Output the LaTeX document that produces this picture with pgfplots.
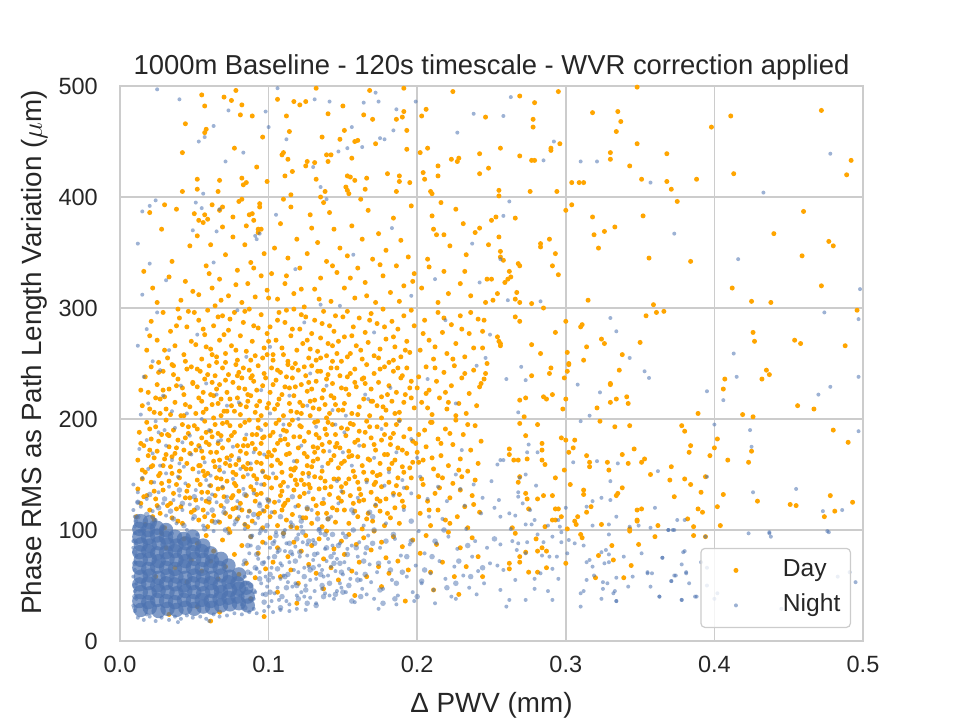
\documentclass[border=0pt]{standalone}
\usepackage{pgfplots}
\pgfplotsset{compat=1.18}
\usepackage{fontspec}
\setmainfont{Liberation Sans}
\definecolor{dayc}{HTML}{FFA500}
\definecolor{nightc}{HTML}{4C72B0}
\definecolor{gridc}{HTML}{CCCCCC}
\definecolor{txt}{HTML}{262626}
\begin{document}
\begin{tikzpicture}
\path[use as bounding box] (0,0) rectangle (480pt,360pt);
\begin{axis}[
  at={(60pt,39.5pt)}, anchor=south west,
  scale only axis, width=371.5pt, height=277.5pt,
  xmin=0, xmax=500, ymin=0, ymax=500,
  axis line style={gridc, line width=0.9pt},
  grid=major, grid style={gridc, line width=0.75pt},
  major tick length=0pt,
  xtick={0,100,200,300,400,500}, xticklabels={0.0,0.1,0.2,0.3,0.4,0.5},
  ytick={0,100,200,300,400,500}, yticklabels={0,100,200,300,400,500},
  tick label style={font=\fontsize{11.75}{14}\selectfont, text=txt, inner sep=0pt},
  xticklabel style={anchor=base, yshift=-15.5pt},
  yticklabel style={anchor=east, xshift=-10.9pt},
  every axis x label/.style={at={(axis description cs:0.5,0)}, anchor=base, yshift=-35.5pt, font=\fontsize{13.9}{16}\selectfont, text=txt, inner sep=0pt},
  every axis y label/.style={at={(axis description cs:0,0.5)}, rotate=90, anchor=base, xshift=5.5pt, yshift=39pt, font=\fontsize{13.9}{16}\selectfont, text=txt, inner sep=0pt},
  xlabel={Δ PWV (mm)},
  ylabel={Phase RMS as Path Length Variation ($\mu$m)},
  title={1000m Baseline - 120s timescale - WVR correction applied},
  every axis title/.style={at={(axis description cs:0.5,1)}, anchor=base, yshift=6pt, font=\fontsize{13.7}{16}\selectfont, text=txt, inner sep=0pt},
  legend style={at={(axis description cs:1,0)}, anchor=south east, xshift=-6pt, yshift=6.5pt,
    draw=gridc, line width=0.6pt, rounded corners=2pt, fill=white, fill opacity=0.8, text opacity=1,
    inner xsep=5pt, inner ysep=2.25pt, row sep=0pt, column sep=0pt,
    nodes={inner sep=0pt, text height=8.8pt, text depth=2.6pt},
    font=\fontsize{12.3}{14}\selectfont, text=txt},
  legend cell align=left,
  legend image code/.code={\path[draw=none,fill=none] (0pt,-8.75pt) rectangle (36pt,8.75pt); \draw[#1] plot coordinates {(12.5pt,0pt)};},
]
% Day
\addplot[only marks, mark=*, color=dayc, mark size=1.25pt, mark options={draw opacity=0, fill=dayc, fill opacity=1}] coordinates {
(348,499)(318,476)(335,477)(337,468)(334,459)(398,463)(348,448)(330,440)(330,434)(368,439)(343,428)(304,413)(309,413)(312,413)(351,416)(368,414)(371,407)(388,416)
(411,473)(413,421)(472,478)(492,433)(489,420)
(295,495)(269,491)(279,485)(246,472)(278,470)(278,463)(256,444)(269,437)(290,444)(290,442)(296,448)(277,433)(279,433)(248,426)(242,439)(242,421)(255,406)(255,401)(276,405)(294,405)
(304,393)(300,388)(318,382)(352,383)(375,396)(319,366)(326,369)(333,373)(322,354)(356,345)(384,342)(315,307)
(460,387)(440,367)(477,360)(480,356)(459,347)(412,318)(472,320)(425,306)(438,305)
(250,379)(253,382)(266,381)(242,372)(255,364)(248,357)(256,351)(256,346)(258,343)(283,358)(283,355)(289,362)(293,349)(291,338)(295,330)(268,340)(269,338)(262,333)(263,328)(261,326)(259,323)(247,326)(250,326)(254,313)(267,314)(266,308)(269,305)(251,307)(246,305)(277,304)(285,300)
(245,289)(266,292)(269,288)(244,279)(254,274)(255,270)(256,268)(256,266)(293,278)(277,267)(283,259)(244,264)(247,250)(246,241)(245,236)(243,232)(290,246)(289,241)(277,239)
(300,288)(310,283)(311,285)(354,293)(359,303)(361,296)(366,297)(350,269)(324,272)(326,268)(314,265)(301,260)(338,258)(312,253)(302,250)(302,249)(336,244)(301,243)(299,237)(330,232)
(426,278)(427,270)(454,271)(458,268)(488,266)(496,298)(435,244)(437,240)(432,236)(407,236)
(330,231)(298,209)(321,210)(330,215)(334,218)(341,220)(342,214)(323,198)(333,193)(343,194)(389,205)(378,194)(380,189)(406,227)(419,204)(426,202)(456,212)(467,209)(480,190)(490,179)(402,182)(384,176)(383,170)(397,167)(400,174)(409,163)(425,171)(423,161)(346,173)(353,164)(351,161)(342,160)(338,168)(314,167)(316,161)(316,157)(299,154)(328,161)(329,154)(371,157)(357,150)(370,145)(380,146)(384,141)(394,148)(338,138)(335,133)(334,131)(312,136)(312,132)(303,141)(391,134)(373,130)(478,131)(493,125)(429,126)(451,123)(455,122)(406,132)(402,121)(474,112)(481,117)(348,118)(351,119)(317,121)(314,116)(308,112)(306,108)(307,105)(389,119)(392,116)(382,110)(348,109)(324,105)(362,104)(386,103)(404,104)(343,101)(343,99)(310,96)(311,93)(360,94)(386,95)(394,94)(331,86)(349,87)(322,77)(344,68)(320,57)(339,57)(332,73)(348,108)
(300,218)(285,220)(291,222)(287,218)(273,219)(269,217)(281,195)(272,202)(269,196)(273,185)(297,183)(300,181)(306,181)(305,174)(302,170)(284,178)(284,172)(284,163)(286,159)(262,173)(262,168)(265,163)(268,163)(274,164)(293,147)(269,148)(268,143)(273,133)(274,128)(275,119)(285,131)(281,128)(291,131)(293,119)(295,119)(297,112)(291,109)(293,109)(286,103)(301,101)(264,102)(266,97)(280,92)(281,81)(284,84)(287,81)(273,80)(269,71)(269,76)(262,70)(281,62)(287,66)(275,62)(300,70)(262,65)
(55,492)(78,496)(70,490)(75,487)(57,482)(82,483)(81,474)(89,473)(44,466)(58,461)(57,458)(96,454)(77,444)(42,440)(92,427)(52,416)(52,407)(67,415)(82,417)(83,411)(85,413)(99,414)(42,405)(66,405)(30,393)(20,386)
(106,488)(117,486)(121,483)(125,486)(132,498)(150,482)(168,496)(191,498)(140,475)(164,474)(170,470)(186,470)(190,472)(191,477)(112,473)(114,459)(151,460)(136,454)(148,452)(158,450)(160,451)(172,448)(193,460)(193,443)(109,438)(110,440)(113,434)(126,432)(125,428)(131,431)(139,438)(142,438)(140,432)(156,435)(111,419)(116,423)(132,416)(153,419)(155,418)(152,409)(153,406)(154,403)(158,415)(166,417)(180,421)(188,419)(188,414)(195,413)(165,407)(186,405)(138,405)(135,400)(115,402)
(50,385)(53,379)(57,384)(59,380)(62,393)(67,388)(80,396)(82,398)(94,394)(94,391)(89,385)(90,379)(85,374)(69,373)(93,371)(95,371)(52,365)(76,364)
(224,495)(206,479)(203,473)(207,444)(202,440)(223,434)(227,432)(228,435)(214,428)(214,419)(204,422)(205,416)(209,405)(210,403)(210,383)(213,366)(218,366)(231,376)
(22,318)(35,342)(41,307)(28,371)(47,356)(16,333)(38,389)(44,324)
(53,312)(58,338)(61,357)(64,302)(67,326)(71,348)(73,311)(76,382)(79,334)(82,305)(84,357)(86,322)(88,341)(91,310)(93,368)(95,329)(97,349)(99,316)(56,377)(69,391)(87,384)(62,318)
(102,331)(104,354)(106,308)(108,376)(111,322)(113,345)(115,391)(117,313)(119,362)(121,336)(124,301)(126,349)(128,384)(131,317)(133,359)(135,327)(137,395)(139,342)(142,306)(144,371)(146,332)(148,354)(110,398)(129,372)(141,386)
(151,318)(153,347)(156,374)(158,309)(160,336)(163,362)(165,323)(167,388)(170,344)(172,305)(174,367)(177,329)(179,352)(182,314)(184,381)(186,338)(189,361)(191,320)(194,346)(196,392)(198,331)(162,398)
(203,318)(207,344)(211,371)(214,305)(218,333)(222,356)(226,389)(229,322)(233,348)(236,311)(239,368)(216,395)
(18,262)(21,288)(25,271)(29,296)(32,255)(34,279)(37,266)(40,291)(43,258)(45,283)(48,270)(26,251)(39,299)(46,297)
(51,267)(53,289)(55,254)(57,276)(59,298)(61,263)(63,284)(65,251)(67,271)(69,293)(71,259)(73,280)(75,266)(77,296)(79,253)(81,275)(83,287)(85,261)(87,299)(89,270)(91,257)(93,282)(95,294)(97,264)(99,277)(58,265)(74,290)(88,253)
(101,283)(103,258)(105,271)(107,296)(109,264)(111,287)(113,252)(115,275)(117,299)(119,262)(121,281)(123,268)(125,292)(127,255)(129,277)(131,289)(133,261)(135,273)(137,297)(139,257)(141,284)(143,266)(145,293)(147,270)(149,252)(112,298)(128,263)(144,279)
(151,274)(153,297)(155,259)(157,283)(159,266)(161,291)(163,254)(165,278)(167,269)(169,295)(171,257)(173,286)(175,263)(177,299)(179,272)(181,251)(183,288)(185,265)(187,281)(189,256)(191,293)(193,270)(195,260)(198,284)
(202,262)(205,289)(208,271)(211,254)(214,296)(217,278)(220,259)(223,285)(226,268)(229,293)(232,256)(235,277)(238,264)(241,290)
(15,212)(17,238)(19,224)(21,247)(23,206)(25,231)(27,218)(29,243)(31,209)(33,227)(35,249)(37,215)(39,236)(41,203)(43,222)(45,245)(47,211)(49,233)(24,219)(36,240)(42,228)
(51,205)(52,229)(54,243)(55,216)(57,236)(58,209)(60,248)(61,222)(63,201)(64,239)(66,214)(67,231)(69,246)(70,207)(72,224)(73,240)(75,212)(76,233)(78,249)(79,219)(81,204)(82,237)(84,227)(85,211)(87,244)(88,221)(90,234)(91,206)(93,248)(94,216)(96,230)(97,241)(99,210)(56,224)(68,218)(80,242)(92,226)(62,233)
(101,224)(102,246)(104,209)(105,235)(107,218)(108,242)(110,203)(111,229)(113,249)(114,214)(116,237)(117,221)(119,206)(120,244)(122,231)(123,212)(125,239)(126,225)(128,203)(129,248)(131,217)(132,234)(134,209)(135,243)(137,226)(138,213)(140,240)(141,205)(143,232)(144,219)(146,246)(147,208)(149,228)(118,250)(139,201)
(151,214)(153,238)(154,222)(156,205)(158,245)(159,229)(161,211)(163,236)(164,218)(166,249)(168,203)(169,227)(171,241)(173,212)(174,233)(176,220)(178,247)(179,208)(181,230)(183,216)(184,243)(186,224)(188,206)(189,237)(191,215)(193,246)(195,228)(198,210)
(201,238)(203,215)(206,247)(208,226)(210,204)(213,234)(215,219)(218,242)(220,209)(223,230)(225,248)(228,214)(230,237)(233,205)(235,223)(238,244)(240,212)(242,229)
(12,163)(13,188)(15,154)(16,176)(18,197)(19,167)(21,182)(22,158)(24,193)(25,171)(27,151)(28,186)(30,164)(31,199)(33,175)(34,157)(36,190)(37,169)(39,181)(40,153)(42,195)(43,172)(45,160)(46,187)(48,178)(49,155)(20,172)(35,166)
(51,172)(52,191)(53,158)(55,183)(56,165)(57,198)(59,151)(60,177)(61,189)(63,162)(64,195)(65,170)(67,154)(68,185)(69,174)(71,160)(72,197)(73,181)(75,167)(76,152)(77,188)(79,176)(80,163)(81,194)(83,157)(84,182)(85,169)(87,199)(88,155)(89,186)(91,173)(92,161)(93,192)(95,178)(96,153)(97,184)(99,166)(58,179)(66,187)(74,158)(86,176)(94,169)
(101,185)(102,158)(104,172)(105,196)(106,163)(108,181)(109,152)(110,190)(112,168)(113,177)(115,155)(116,199)(117,184)(119,162)(120,174)(122,193)(123,151)(124,180)(126,166)(127,188)(129,157)(130,175)(131,197)(133,164)(134,183)(136,153)(137,171)(138,191)(140,160)(141,179)(143,195)(144,167)(145,186)(147,156)(148,174)(149,192)(114,169)(132,186)
(151,162)(152,185)(154,171)(155,196)(157,153)(158,179)(160,166)(161,189)(163,158)(164,176)(166,198)(167,164)(169,183)(170,152)(172,172)(173,193)(175,160)(176,181)(178,168)(179,195)(181,155)(182,177)(184,187)(185,163)(187,174)(188,199)(190,157)(191,184)(193,169)(195,191)(197,161)(199,178)
(201,186)(204,163)(206,175)(209,197)(211,155)(214,182)(216,167)(219,191)(221,158)(224,177)(226,199)(229,164)(231,186)(234,153)(236,172)(239,194)(241,160)(243,180)
(11,112)(12,137)(14,124)(15,146)(17,105)(18,131)(20,118)(21,143)(23,109)(24,128)(26,149)(27,115)(29,136)(30,102)(32,122)(33,144)(35,111)(36,133)(38,119)(40,147)(42,106)(44,129)(46,140)(48,116)
(51,127)(52,145)(53,109)(55,134)(56,118)(57,149)(59,103)(60,125)(61,140)(63,113)(64,131)(65,147)(67,107)(68,122)(69,138)(71,115)(72,144)(73,101)(75,129)(76,119)(77,142)(79,110)(80,135)(81,124)(83,148)(84,105)(85,131)(87,117)(88,139)(89,108)(91,126)(92,146)(93,114)(95,133)(96,102)(97,141)(99,121)(78,150)
(101,112)(102,138)(104,125)(105,147)(106,104)(108,131)(109,118)(110,143)(112,109)(113,127)(115,149)(116,114)(117,136)(119,102)(120,122)(122,145)(123,111)(124,133)(126,119)(127,141)(129,106)(130,128)(131,148)(133,115)(134,137)(136,103)(137,124)(138,144)(140,110)(141,132)(143,120)(144,146)(145,107)(147,129)(149,139)
(151,118)(152,142)(154,106)(155,131)(157,124)(158,148)(160,112)(161,137)(163,101)(164,127)(166,145)(167,115)(169,134)(170,108)(172,122)(173,149)(175,117)(176,139)(178,104)(179,128)(181,143)(182,111)(184,133)(185,120)(187,147)(188,106)(190,126)(193,138)
(202,115)(204,141)(207,126)(209,104)(212,133)(214,118)(217,147)(219,109)(222,129)(224,142)(227,112)(229,136)(232,121)(234,102)(237,131)(239,145)(242,116)
(24,58)(31,84)(37,66)(43,92)(48,73)(28,97)(45,53)
(52,88)(55,63)(58,95)(61,72)(63,81)(66,56)(69,91)(71,67)(74,98)(77,78)(80,60)(82,86)(85,70)(88,94)(91,57)(93,79)(96,89)(98,65)
(101,93)(103,71)(106,84)(108,58)(110,97)(113,76)(115,64)(117,89)(120,52)(122,81)(125,95)(127,69)(129,86)(132,61)(134,92)(137,74)(139,99)(142,66)(144,83)(147,55)(149,90)
(151,78)(154,96)(156,63)(159,87)(161,71)(164,93)(166,58)(169,82)(171,99)(174,67)(176,89)(179,75)(181,61)(184,94)(187,72)(190,85)(194,64)(197,91)
(202,79)(206,95)(209,62)(213,87)(217,71)(221,98)(225,58)(229,84)(233,67)(237,93)(241,76)
(33,24)(52,31)(67,26)(88,38)(106,44)(119,34)(137,47)(158,41)(176,49)(192,36)(211,46)(228,42)(244,58)(97,22)(61,18)
(25,305)(33,328)(49,315)(60,331)(68,307)(78,321)(90,336)(100,309)(112,329)(122,317)(134,308)(143,338)(155,327)(166,311)(175,339)(188,306)(197,324)(208,337)(221,313)(232,333)
(20,275)(30,262)(38,284)(44,252)(50,296)(56,281)(62,258)(66,292)(70,276)(78,262)(84,297)(90,284)(96,255)(100,270)(106,289)(110,258)(116,281)(122,294)(126,271)(132,253)(136,286)(140,268)(146,259)(150,292)(156,275)(162,262)(168,289)(174,255)(178,283)(184,274)(192,262)(196,298)(204,277)(212,265)(218,291)(224,254)(230,281)(236,296)
(14,226)(20,209)(26,242)(30,220)(34,204)(38,230)(44,213)(48,247)(53,219)(56,206)(59,240)(62,213)(65,227)(68,203)(71,235)(74,218)(77,207)(80,228)(83,246)(86,216)(89,239)(92,212)(95,203)(98,237)(100,214)(103,231)(106,244)(109,222)(112,238)(115,207)(118,229)(121,215)(124,247)(127,233)(130,210)(133,243)(136,219)(139,236)(142,246)(145,213)(148,239)(152,227)(155,241)(160,204)(165,232)(170,216)(175,245)(180,222)(185,205)(190,239)(196,219)(200,228)(207,210)(212,246)(219,224)(226,203)(232,241)
(14,178)(17,152)(20,191)(23,165)(26,180)(29,158)(32,186)(35,151)(38,174)(41,164)(44,183)(47,169)(50,194)(53,176)(56,153)(58,188)(61,170)(64,157)(66,178)(69,196)(72,165)(75,185)(78,159)(81,171)(84,197)(86,160)(89,178)(92,186)(95,160)(98,195)(100,170)(103,188)(106,178)(108,160)(111,182)(114,195)(118,156)(121,184)(124,169)(127,151)(130,162)(133,198)(136,177)(139,186)(142,163)(145,175)(149,160)(153,191)(156,167)(160,181)(164,152)(168,193)(171,177)(175,150)(178,186)(183,160)(186,195)(190,172)(195,156)(200,170)(205,190)(210,165)(216,178)(222,187)(228,154)(234,195)
(16,130)(22,112)(28,142)(34,124)(39,108)(45,135)(50,118)(54,141)(58,126)(62,108)(66,137)(70,130)(74,112)(78,140)(82,118)(86,103)(90,136)(94,115)(98,148)(100,127)(104,116)(108,140)(111,124)(115,103)(118,145)(121,130)(125,111)(128,138)(132,122)(135,147)(139,115)(142,139)(146,118)(150,134)(154,146)(158,117)(162,132)(166,110)(171,141)(175,126)(180,115)(186,140)(191,121)(196,147)(201,130)(208,118)(215,138)(222,106)(230,148)(238,123)
(23,135)(27,205)(31,168)(36,248)(41,121)(46,193)(49,232)(54,158)(57,112)(62,184)(65,256)(68,146)(72,207)(76,131)(79,239)(83,176)(86,222)(90,149)(93,199)(97,117)(99,258)(102,167)(106,213)(109,135)(112,189)(116,246)(119,141)(122,205)(126,158)(129,227)(133,174)(136,124)(140,197)(143,252)(147,146)(150,208)(154,166)(158,233)(161,126)(165,188)(169,216)(172,143)(176,201)(180,168)(184,253)(188,132)(192,222)(197,180)(203,146)(210,197)
(21,157)(25,122)(29,226)(33,185)(38,141)(43,203)(47,129)(52,245)(55,171)(59,134)(63,221)(67,163)(71,251)(74,194)(78,120)(81,213)(85,155)(88,237)(92,132)(96,183)(100,147)(103,253)(107,199)(110,122)(114,228)(117,154)(121,194)(124,141)(128,216)(131,170)(135,255)(138,138)(142,221)(146,178)(149,126)(153,256)(157,195)(160,143)(164,237)(168,163)(173,128)(177,211)(182,183)(187,246)(191,152)(196,234)(201,161)(206,223)(214,149)(221,215)
};
\addlegendentry{Day}
% Night: dense core
\addplot[only marks, mark=*, color=nightc, mark size=3.6pt, mark options={draw opacity=0, fill=nightc, fill opacity=0.7}, forget plot] coordinates {
(14,28)(20,30)(26,27)(32,29)(38,28)(44,30)(50,29)(56,31)(62,30)(68,32)(74,33)(80,34)
(13,36)(19,35)(25,37)(31,36)(37,35)(43,37)(49,36)(55,37)(61,36)(67,38)(73,39)(79,40)
(14,44)(20,43)(26,45)(32,44)(38,43)(44,45)(50,44)(56,43)(62,45)(68,44)(74,46)(80,47)
(13,51)(19,52)(25,50)(31,52)(37,51)(43,50)(49,52)(55,51)(61,52)(67,50)(73,53)(79,52)
(14,58)(20,59)(26,57)(32,59)(38,58)(44,57)(50,59)(56,58)(62,57)(68,59)(74,58)(80,60)
(13,66)(19,65)(25,67)(31,66)(37,65)(43,67)(49,66)(55,65)(61,67)(67,66)(73,68)
(14,73)(20,74)(26,72)(32,74)(38,73)(44,72)(50,74)(56,73)(62,72)(68,74)
(13,80)(19,81)(25,79)(31,80)(37,81)(43,79)(49,80)(55,81)(61,79)
(14,87)(20,86)(26,88)(32,87)(38,86)(44,88)(50,87)(56,86)
(13,94)(19,93)(25,95)(31,93)(37,94)(43,92)(49,94)
(13,101)(19,100)(25,102)(31,100)(14,108)(20,107)(86,32)(86,40)(85,48)
};
% Night: intermediate density
\addplot[only marks, mark=*, color=nightc, mark size=1.4pt, mark options={draw opacity=0, fill=nightc, fill opacity=0.5}, forget plot] coordinates {
(84,30)(90,45)(86,62)(92,78)(88,94)(97,35)(100,55)(96,70)(103,88)(99,104)(108,30)(112,48)(106,65)(115,80)(110,97)(120,38)(124,58)(118,72)(127,90)(122,108)(132,32)(136,50)(130,66)(139,84)(134,100)(145,42)(149,62)(142,76)(152,94)(156,36)(160,55)(164,72)(170,88)(175,46)(182,64)
(15,100)(22,106)(29,102)(36,110)(43,104)(50,112)(57,101)(64,107)(71,100)(78,108)(18,114)(26,120)(34,117)(42,124)(52,120)(62,118)(12,112)(70,116)(80,120)(90,114)
(10,30)(10,50)(10,70)(10,90)(84,52)(84,72)(86,86)(10,40)(10,80)
(88,38)(94,56)(101,44)(107,82)(113,60)(119,92)(125,46)(131,78)(137,40)(143,96)(148,70)(154,50)(159,84)(165,60)(171,100)(177,34)(186,52)(193,76)(200,40)(205,64)(212,90)(220,48)(228,72)(236,58)(94,122)(108,112)(126,120)(140,110)(156,118)(170,112)(184,96)(196,108)
(88,50)(91,66)(93,84)(95,100)(98,42)(101,60)(104,76)(105,95)(109,40)(111,58)(114,88)(116,104)(119,50)(121,80)(123,98)(126,34)(128,64)(131,88)(133,110)(135,60)(138,96)(141,52)(144,70)(147,86)(150,44)(153,78)(157,100)(162,40)(166,84)(168,116)(174,70)(179,90)(185,38)(190,62)(196,90)(203,54)(210,76)(218,100)(226,52)(234,86)(244,66)(252,92)
(12,125)(20,132)(30,128)(40,136)(50,130)(60,128)(72,126)(84,132)(100,126)(116,130)
};
% Night
\addplot[only marks, mark=*, color=nightc, mark size=1.0pt, mark options={draw opacity=0, fill=nightc, fill opacity=0.55}] coordinates {
(9,32)(10,45)(9,58)(10,71)(9,84)(10,97)(11,108)(9,118)(10,27)(11,52)(10,64)(11,77)(9,90)(12,125)(10,103)(11,38)(12,134)(10,112)(9,141)(11,88)
(12,21)(16,19)(20,22)(24,18)(28,21)(33,19)(37,22)(41,20)(45,23)(49,21)(54,22)(58,20)(63,24)(67,22)(72,23)(77,25)(82,24)(87,26)(92,25)(97,27)(103,26)(108,28)(114,27)(119,29)(125,28)(18,24)(39,17)(60,18)
(13,99)(17,104)(21,98)(24,109)(28,101)(31,113)(35,97)(38,106)(42,118)(45,100)(49,110)(52,96)(56,104)(59,115)(63,99)(66,108)(70,120)(73,97)(77,105)(80,112)(84,101)(87,117)(91,106)(94,124)(98,99)
(14,121)(18,128)(22,117)(26,134)(29,124)(33,139)(36,127)(40,131)(44,142)(47,123)(51,136)(55,128)(58,145)(62,132)(65,125)(69,139)(72,130)(76,146)(79,126)(83,137)(86,150)(90,133)(95,141)(99,128)
(15,147)(19,155)(23,143)(27,158)(31,151)(35,163)(39,148)(43,157)(48,168)(53,152)(57,161)(61,149)(67,157)(74,163)(81,155)(88,160)(96,152)
(13,173)(18,181)(22,169)(26,188)(31,176)(37,192)(42,179)(47,185)(54,174)(60,190)(68,181)(76,175)(85,186)
(14,204)(19,214)(24,198)(29,221)(35,207)(41,230)(16,238)(22,252)(12,266)(27,244)(33,262)(18,281)(25,296)(15,312)(31,325)(20,340)(12,358)
(82,33)(85,47)(88,61)(90,38)(93,74)(95,52)(98,88)(100,31)(102,66)(104,43)(106,80)(108,56)(110,94)(112,36)(114,71)(116,49)(118,85)(120,62)(122,103)(124,40)(126,77)(128,55)(130,91)(132,34)(134,68)(136,47)(138,83)(140,59)(142,112)(144,38)(146,74)(148,52)(150,97)(152,44)(154,65)(156,86)(158,35)(160,76)(162,55)(164,104)(166,42)(168,69)
(84,58)(87,79)(89,95)(91,44)(94,62)(97,71)(99,49)(101,84)(103,57)(105,98)(107,37)(109,68)(111,81)(113,53)(115,107)(117,64)(119,41)(121,76)(123,89)(125,50)(127,67)(129,118)(131,45)(133,79)(135,97)(137,58)(139,72)(141,41)(143,86)(145,63)(147,124)(149,48)(151,71)(153,83)(155,56)(157,115)(159,61)(161,89)(163,47)(165,79)(167,95)(169,53)
(86,112)(96,118)(107,126)(118,121)(127,134)(137,128)(149,135)(160,129)
(81,41)(83,69)(86,52)(88,86)(90,29)(92,65)(94,97)(96,42)(98,58)(100,75)(102,36)(104,90)(106,48)(108,70)(110,59)(112,88)(114,33)(116,78)(118,52)(120,96)(122,44)(124,66)(126,87)(128,39)(130,73)(132,56)(134,101)(136,64)(138,43)(140,92)(142,67)(144,79)(146,45)(148,88)(150,60)(84,105)(93,111)(102,116)(111,100)(121,112)
(171,38)(173,62)(175,84)(177,47)(179,106)(181,71)(183,55)(185,92)(187,41)(189,77)(191,118)(193,58)(195,87)(197,44)(199,68)(201,99)(203,52)(205,79)(207,128)(209,61)(211,46)(213,88)(215,72)(217,110)(219,56)(221,94)(223,40)(225,67)(227,83)(229,137)(231,59)(233,101)(235,48)(237,76)(239,90)(241,63)(243,115)(245,52)(247,84)(249,70)
(172,123)(178,140)(184,131)(190,145)(196,133)(202,148)(208,112)(214,139)(220,126)(226,150)(232,122)(238,141)(244,129)(250,144)
(174,29)(186,33)(198,36)(212,34)(226,38)(240,42)
(252,120)(258,64)(263,101)(268,88)(276,118)(283,61)(289,76)(306,88)(318,67)(334,112)(342,49)(268,134)(300,120)(280,140)(330,144)
(45,205)(58,232)(72,212)(95,226)(110,195)(128,241)(143,208)(165,222)(188,198)(207,236)(226,214)(240,248)
(52,276)(79,298)(101,265)(124,287)(148,302)(171,278)(196,311)(219,289)(63,341)(92,362)(118,335)(157,348)(183,372)(212,326)(237,358)(105,384)(49,370)(135,303)(85,256)(66,180)(90,170)(150,170)(200,165)(230,172)
(92,142)(97,168)(103,151)(108,185)(113,139)(117,162)(122,176)(127,148)(132,193)(136,157)(141,171)(146,144)(151,188)(156,158)(161,176)(166,143)(171,165)(176,191)(181,152)(186,170)(191,138)(196,182)(101,205)(114,221)(126,212)(139,230)(152,203)(167,218)(182,228)(95,190)(120,200)(145,195)(60,140)(70,152)(80,165)(40,160)(30,190)(55,200)(65,222)(80,215)
(310,432)(321,432)(357,413)(478,439)(433,404)(263,490)(258,473)(292,450)(285,433)(373,367)(416,344)(498,317)(262,396)(258,383)(256,344)(242,323)(261,307)(283,306)(249,276)(246,255)(270,247)(260,236)(273,235)(330,291)(334,279)(343,255)(353,243)(356,237)(308,231)(474,296)(497,290)(413,259)(415,238)(497,238)
(395,225)(478,229)(470,222)(406,217)(323,224)(316,203)(310,198)(497,189)(424,190)(400,195)(425,175)(395,148)(426,134)(455,137)(473,117)(486,118)(423,97)(437,97)(477,98)(362,153)(335,160)(321,162)(305,161)(324,129)(330,127)(318,126)(314,121)(360,120)(375,109)(380,109)(369,100)(373,100)(349,104)(329,105)(318,104)(302,91)(312,86)(324,80)(329,78)(314,71)(316,73)(339,76)(351,79)(365,75)(379,80)(391,71)(355,61)(358,61)(373,59)(381,61)(371,54)(387,40)(378,37)(363,40)(334,36)(324,38)(310,43)(312,45)(310,31)(328,52)(319,59)(314,55)(495,53)
(291,37)(273,37)(260,31)(262,37)(256,46)(279,47)(288,45)(295,56)(291,65)(301,79)(279,56)(266,55)(294,76)(274,89)(273,79)(284,77)(264,90)(267,82)(256,87)(254,68)(281,96)(285,89)(277,105)(279,109)(266,113)(273,105)(271,124)(268,130)(262,115)(255,127)(256,112)(295,109)(296,103)(297,98)(288,104)(269,147)(273,150)(256,163)(258,163)(254,159)(268,206)(275,177)(274,170)(281,170)(291,94)(297,89)
(25,497)(40,488)(73,478)(98,477)(63,464)(57,454)(53,450)(83,440)(71,432)(56,403)(15,387)(20,392)(24,397)(100,463)(106,498)(131,488)(141,486)(164,485)(172,494)(174,486)(186,479)(199,486)(156,463)(112,452)(175,453)(178,452)(184,460)(147,441)(153,444)(163,445)(130,427)(135,409)(139,398)(51,395)(55,390)(67,389)(91,365)(94,367)(65,369)(238,475)(227,458)
(437,98)(438,94)(476,99)(483,58)(491,62)(445,29)(395,50)(402,43)(400,38)(395,66)(329,96)(343,103)(357,102)(369,100)(372,100)(365,75)(378,69)(380,81)(381,62)(383,52)(371,54)(374,59)(357,49)(363,40)(378,37)(388,40)(394,94)(327,82)(329,71)(325,53)(325,47)(334,36)(332,43)(333,45)(334,57)(345,58)(355,62)(326,70)
};
\addlegendentry{Night}
\end{axis}
\end{tikzpicture}
\end{document}
